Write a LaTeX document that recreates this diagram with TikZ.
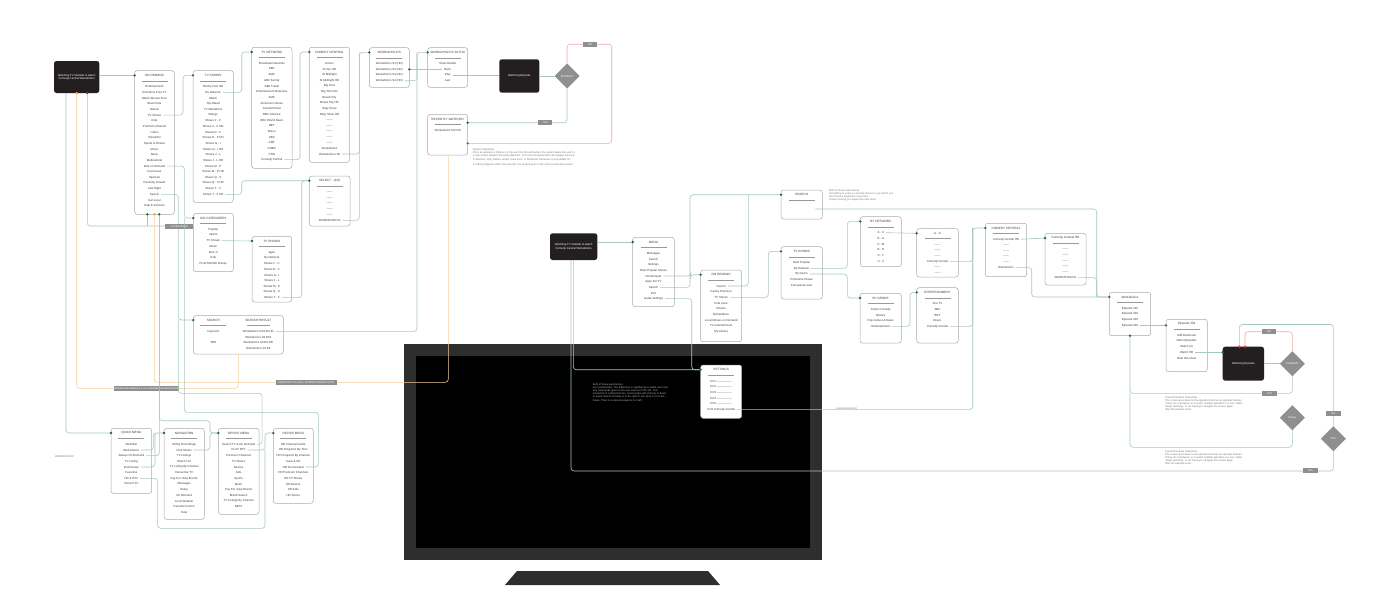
\documentclass[tikz,border=0pt]{standalone}
\usepackage{fontspec}
\setmainfont{Liberation Sans}
\usetikzlibrary{calc,shapes.geometric}
\definecolor{connc}{HTML}{A6C9BC}
\definecolor{dotc}{HTML}{1D6B3B}
\definecolor{orc}{HTML}{F8CF9C}
\definecolor{ordot}{HTML}{F5A23A}
\definecolor{redl}{HTML}{F3A7A7}
\definecolor{redd}{HTML}{E53935}
\definecolor{boxc}{HTML}{AAAAAA}
\definecolor{sepc}{HTML}{9A9A9A}
\definecolor{txt}{HTML}{3A3A3A}
\definecolor{labc}{HTML}{8F8F8F}
\definecolor{blkc}{HTML}{231F20}
\definecolor{notec}{HTML}{777777}
\definecolor{bezel}{HTML}{2E2E2E}
\tikzset{
 boxst/.style={draw=boxc, fill=white, line width=0.5pt, rounded corners=2.5pt, inner sep=0pt, outer sep=0pt, anchor=north west},
 tst/.style={font=\fontsize{3.1}{3.6}\selectfont, text=txt, inner sep=0.3pt},
 itst/.style={font=\fontsize{2.9}{3.4}\selectfont, text=txt, inner sep=0.3pt},
 cline/.style={draw=connc, line width=0.6pt, rounded corners=3pt},
 oline/.style={draw=orc, line width=0.6pt, rounded corners=3pt},
 rline/.style={draw=redl, line width=0.6pt, rounded corners=3pt},
 blkst/.style={fill=blkc, rounded corners=2.5pt, inner sep=0pt, outer sep=0pt, anchor=north west, text=white, align=center, font=\fontsize{2.8}{3.3}\selectfont},
 diast/.style={diamond, fill=labc, minimum width=25pt, minimum height=25pt, inner sep=0pt, outer sep=0pt, text=white, font=\fontsize{2.8}{3.3}\selectfont},
 lab/.style={fill=labc, text=white, minimum width=14.5pt, minimum height=5pt, inner sep=0.5pt, font=\fontsize{2.6}{3}\selectfont},
 notest/.style={anchor=north west, align=left, inner sep=0pt, text=notec, font=\fontsize{2.6}{3.2}\selectfont},
}
\newcommand\lbox[7]{%
 \pgfmathsetmacro\bw{#4-#2}\pgfmathsetmacro\bh{#5-#3}%
 \node[boxst, minimum width=\bw pt, minimum height=\bh pt] (#1) at (#2,#3) {};
 \node[tst] (#1-t) at ($(#1.north)+(0,4.7)$) {#6};
 \draw[sepc, line width=0.4pt] ($(#1.north)+(-13,10)$) -- ($(#1.north)+(13,10)$);
 \coordinate (#1-in) at ($(#1.north west)+(0,4.7)$);
 \foreach \t [count=\i] in {#7} {\node[itst] (#1-\i) at ($(#1.north)+(0,{16+(\i-1)*5.67})$) {\t};}
}
\newcommand\gdot[1]{\fill[dotc] (#1) circle (1.3pt);}
\newcommand\rdot[1]{\fill[redd] (#1) circle (1.3pt);}
\newcommand\orgdot[1]{\fill[ordot] (#1) circle (1.3pt);}
\begin{document}
\begin{tikzpicture}[x=1pt,y=-1pt]
\useasboundingbox (0,0) rectangle (1400,600);
\fill[white] (0,0) rectangle (1400,600);
% ---------- TV monitor ----------
\fill[bezel] (404,344) rectangle (822,560);
\fill[black] (416,356) rectangle (810,548);
\fill[bezel] (517,571) -- (708,571) -- (720,585) -- (505,585) -- cycle;
\node[notest, text=white!70!black] (scrnote) at (592.7,383) {Both of these experiences\\are Cosmetically. The difference is signified by a subtle color and\\any commands given to the user source for the left. The\\interaction is a fairly fast one, most people will scroll up or down\\to watch Search Overlay or to the right to see what is on in the\\future. Their is a natural sequence to it left.};

% ---------- boxes (top-left) ----------
\node[blkst, minimum width=45.3pt, minimum height=32pt] (blk1) at (54,61) {Watching TV Outside to watch\\Comedy Central Workaholics};
\lbox{od1}{134.7}{70.7}{174.3}{214.3}{ON DEMAND}{Entertainment,Primetime Free TV,Watch Movies Free,Black Kids,Marvel,TV Shows,Kids,Premium Channel,Latino,Showtime,Sports \& Fitness,Music,News,Multicultural,Kids on Demand,Fan Faves,Specials,Recently Viewed,Last Night,Search,Get Local,Help \& Services}
\lbox{tvs1}{193}{70.7}{233.3}{202.3}{TV SHOWS}{Mostly Free HD,By Network,Watch,Top Rated,TV Marathons,Mango,Shows \# - C,Shows \# - C HD,Shows D - F,Shows D - F HD,Shows G - I,Shows G - I HD,Shows J - L,Shows J - L HD,Shows M - P,Shows M - P HD,Shows Q - S,Shows Q - S HD,Shows T - Z,Shows T - Z HD}
\lbox{tvn}{251.7}{47.3}{292}{168.3}{TV NETWORK}{Broadcast Networks,ABC,AMC,ABC Family,A\&E Travel,Entertainment Networks,AMC,American Heroes,Animal Planet,BBC America,BBC World News,BET,Bravo,CBS,CMT,CNBC,CNN,Comedy Central}
\lbox{cc1}{309.3}{47.3}{349.7}{162.3}{COMEDY CENTRAL}{Archer,Archer HD,At Midnight,At Midnight HD,Big Time,Big Time HD,Broad City,Broad City HD,Daily Show,Daily Show HD,------,------,------,------,------,Workaholics,Workaholics HD}
\lbox{wk1}{369.3}{47.7}{409.3}{87.3}{WORKAHOLICS}{Workaholics S1 (HD),Workaholics S2 (HD),Workaholics S3 (HD),Workaholics S4 (HD)}
\lbox{wke}{427.7}{47.7}{467.7}{87.3}{WORKAHOLICS S3 E10}{Show Details,Back,Play,Last}
\node[blkst, minimum width=40pt, minimum height=33.4pt] (blkep1) at (499.3,59.3) {Watching Episode};
\node[diast] (dia1) at (567,76) {Finished?};
\lbox{rw}{427.7}{114.3}{467.7}{155}{RECENTLY WATCHED}{Workaholics S3 E10}
\lbox{sel}{309.3}{176}{350}{226}{SELECT - (1/6)}{------,------,------,------,------,WORKAHOLICS}
\lbox{kc}{193.3}{213.3}{233.3}{271.7}{KID CATEGORIES}{Popular,Sports,TV Shows,Music,Nick Jr,Kids,PLAYHOUSE Disney}
\lbox{tvs2}{252}{236.3}{291.7}{302}{TV SHOWS}{Ages,By Network,Shows \# - C,Shows D - F,Shows G - I,Shows J - L,Shows M - P,Shows Q - S,Shows T - Z}
% search box
\node[boxst, minimum width=90pt, minimum height=38.3pt] (srch) at (193.3,315.7) {};
\node[tst] (srch-t) at (213.3,320) {SEARCH};
\node[tst] (srch-t2) at (258.3,320) {SEARCH RESULT};
\draw[sepc, line width=0.4pt] (200,325.5) -- (226,325.5);
\draw[sepc, line width=0.4pt] (247.3,325.5) -- (270,325.5);
\node[itst] (srch-l1) at (213.3,331.3) {Keyword};
\node[itst] (srch-l2) at (213.3,342.7) {TBD};
\node[itst] (srch-r1) at (258.3,331.3) {Workaholics S3 E10 HD};
\node[itst] (srch-r2) at (258.3,337) {Workaholics S3 E10};
\node[itst] (srch-r3) at (258.3,342.7) {Workaholics S3 E9 HD};
\node[itst] (srch-r4) at (258.3,348.3) {Workaholics S3 E9};
\coordinate (srch-in) at (193.3,320);
% bottom boxes
\lbox{qa}{111}{428.3}{151.7}{493.3}{QUICK MENU}{Watchlist,Web Alarms,Always On Demand,TV Listing,Find Shows,Favorites,HD \& DTV,Recent TV}
\lbox{nav}{164}{428.3}{204.3}{519.3}{NAVIGATION}{All My Recordings,Find Shows,TV Listings,Watch List,TV Listing By Channel,Interactive TV,Pay Per View Events,Messages,Setup,On Demand,Local Weather,Parental Control,Help}
\lbox{dm1}{218.3}{428.3}{259}{514.3}{DEVICE MENU}{Search TV \& On Demand,PLAY DTV,Premium Channels,TV Shows,Movies,Kids,Sports,Music,Pay Per View Events,Brand Search,TV Listings By Channel,NEXT}
\lbox{dm2}{273.3}{428.3}{313.3}{503.3}{DEVICE MENU}{HD Channel Guide,HD Programs By Time,HD Programs By Channel,Save \& HD,HD On Demand,HD Premium Channels,HD TV Shows,HD Movies,HD Kids,HD Sports}

% ---------- boxes (right) ----------
\node[blkst, minimum width=47.3pt, minimum height=26.7pt] (blk2) at (550,233.3) {Watching TV Outside to watch\\Comedy Central Workaholics};
\lbox{menu}{632.7}{237.3}{674.3}{306.7}{MENU}{Messages,Search,Settings,Most Popular Shows,On Demand,Apps For TV,Search,Exit,Guide Settings}
\lbox{od2}{700.7}{270}{741.7}{341.7}{ON DEMAND}{Search,Family Premium,TV Shows,Kids Zone,Movies,Nickelodeon,Local Movies on Demand,TV entertainment,My Library}
\lbox{set}{700.7}{365}{741.7}{418.3}{SETTINGS}{CC1 ----------------,CC2 ----------------,CC3 ----------------,CC4 ----------------,CC5 ----------------,CC6 Comedy Central}
\lbox{s3}{781}{190}{822.3}{219}{SEARCH}{}
\lbox{tvs3}{781}{246.7}{822.3}{299}{TV SHOWS}{Most Popular,By Network,By Genre,Primetime Shows,Full season sale}
\lbox{bn}{860.3}{216.7}{901.3}{266.7}{BY NETWORK}{A - C,D - G,H - M,N - R,S - T,U - Z}
\lbox{ac}{916.7}{228.6}{958.3}{277}{A - C}{------,------,------,Comedy Central,------,------}
\lbox{cc3}{985.3}{223.3}{1026.7}{276.7}{COMEDY CENTRAL}{Comedy Central HD,------,------,------,------,Workaholics}
\lbox{cchd}{1045}{233.3}{1086}{285}{Comedy Central HD}{------,------,------,------,------,WORKAHOLICS}
\lbox{bg}{860}{293.3}{901.3}{343}{BY GENRE}{Action Comedy,Movies,Pop Culture \& News,Entertainment}
\lbox{ent}{916.7}{287.7}{958.3}{343}{ENTERTAINMENT}{Ace TV,ABC,BET,Bravo,Comedy Central}
\lbox{wk3}{1109.3}{292.3}{1150.7}{335.7}{Workaholics}{Episode 301,Episode 302,Episode 303,Episode 304}
\lbox{ep}{1166}{319.3}{1207.3}{371.7}{Episode 304}{Add Bookmark,Other Episodes,Watch (2),Watch HD,Rate this show}
\node[blkst, minimum width=41.3pt, minimum height=34pt] (blk3) at (1222.7,346.7) {Watching Episode};
\node[diast] (dia2) at (1292.3,363.7) {Finished?};
\node[diast] (dia3) at (1292.3,417.7) {Pause};
\node[diast] (dia4) at (1333.3,438.7) {Exit};

% ---------- connectors (top-left) ----------
\draw[cline] (blk1.east |- od1-in) -- (od1-in);
\draw[cline] ([xshift=1.5pt]od1-6.east) -| ([xshift=-10pt]tvs1-in) -- (tvs1-in);
\draw[cline] ([xshift=1.5pt]od1-15.east) -| ([xshift=-9pt]kc-in) -- (kc-in);
\draw[cline] ([xshift=1.5pt]od1-20.east) -| ([xshift=-15pt]srch-in) -- (srch-in);
\draw[cline] ([xshift=1.5pt]tvs1-2.east) -| ([xshift=-10pt]tvn-in) -- (tvn-in);
\draw[cline] ([xshift=1.5pt]tvs1-20.east) -| ([xshift=-67.6pt]sel-in) -- (sel-in);
\draw[cline] ([xshift=1.5pt]tvn-18.east) -| ([xshift=-9.3pt]cc1-in) -- (cc1-in);
\draw[cline] ([xshift=1.5pt]cc1-17.east) -| ([xshift=-10pt]wk1-in) -- (wk1-in);
\draw[cline] ([xshift=1.5pt]sel-6.east) -| ([xshift=-10pt]wk1-in);
\draw[cline] ([xshift=1.5pt]tvs2-9.east) -| ([xshift=-7.6pt]sel-in) -- (sel-in);
\draw[cline] ([xshift=1.5pt]kc-3.east) -- (tvs2-in);
\draw[cline] ([xshift=1.5pt]wk1-4.east) -| ([xshift=-10.7pt]wke-in) -- (wke-in);
\draw[cline] ([xshift=1.5pt]srch-r1.east) -| ([xshift=-10.7pt]wke-in);
\draw[cline] ([xshift=-1.5pt]wke-2.west) -- (wk1.east |- wke-2);
\draw[cline] ([xshift=1.5pt]wke-3.east) -- (blkep1.west |- wke-3);
\draw[cline] (blkep1.east |- dia1.west) -- (dia1.west);
\coordinate (rw-a) at ($(rw.north east)+(0,8.4)$);
\coordinate (rw-b) at ($(rw.north east)+(0,29)$);
\coordinate (r1) at ($(dia1.north)+(44.7,-19.3)$);
\draw[cline] (dia1.south) |- (rw-a);
\draw[rline] (dia1.north) |- (r1) |- (rw-b);
\node[lab] (yes1) at ($(rw-a)+(77.5,0)$) {YES};
\node[lab] (no1) at ($(r1)+(-21.7,0)$) {NO};
% from black box 1
\coordinate (b1g) at ($(blk1.south west)+(12,0)$);
\coordinate (b1o) at ($(blk1.south west)+(22.7,0)$);
\coordinate (b1d) at ($(blk1.south west)+(33.3,0)$);
\coordinate (sro) at ($(srch.south west)+(45,0)$);
\coordinate (catj) at ($(kc-in)+(-9,8)$);
\draw[cline] (b1g) |- (qa-in);
\draw[oline] (b1o) |- ($(sro)+(0,34.3)$) -- (sro);
\draw[cline] (b1d) |- (catj);
\node[lab, minimum width=28pt] (catlab) at ($(catj)+(-5,0.7)$) {CATEGORIES};
\node[lab, minimum width=61pt] (advlab) at ($(b1o)+(69.6,295.3)$) {ADVANCED SEARCH \& TV CHANNEL INTERACTION};
% from on demand bottom
\coordinate (od1g) at ($(od1.south west)+(12.6,0)$);
\coordinate (od1o) at ($(od1.south west)+(19.6,0)$);
\coordinate (od1h) at ($(od1.south west)+(24.6,0)$);
\coordinate (rwo) at ($(rw.south west)+(20.6,0)$);
\draw[cline] (od1g) -- ($(od1g)+(0,11.7)$);
\draw[oline] (od1o) |- ($(rwo)+(0,227.3)$) -- (rwo);
\draw[cline] (od1h) |- ($(dm1-in)+(-8.3,-12.3)$) |- (dm1-in);
\node[lab, minimum width=61pt] (desklab) at ($(od1o)+(151.7,168)$) {DESKTOP/TV \& CELL SYSTEM INTERACTION};
% search line continues to device menu, kids line to HD device menu
\draw[cline] ([xshift=1.5pt]dm1-1.east) -| ($(dm1-1.east)+(6.5,-51)$) -| ([xshift=-15pt]srch-in);
\draw[cline] ([xshift=1.5pt]dm2-5.east) -| ($(dm2.east)+(5,-53.5)$) -| ([xshift=-9pt]kc-in);
% bottom
\draw[cline] ([xshift=1.5pt]qa-2.east) -| ([xshift=-10.7pt]nav-in) -- (nav-in);
\draw[cline] ([xshift=1.5pt]qa-5.east) -| ([xshift=-9pt]nav-in);
\draw[cline] ([xshift=1.5pt]qa-3.east) -| (od1h);
\draw[cline] ([xshift=1.5pt]nav-2.east) -| ([xshift=-8.3pt]dm1-in) -- (dm1-in);
\coordinate (dm1j) at ([xshift=-8.3pt]dm2-in |- dm1-2);
\draw[cline] ([xshift=1.5pt]dm1-2.east) -| ([xshift=-8.3pt]dm2-in) -- (dm2-in);
\draw[cline] ([xshift=1.5pt]qa-7.east) -| ($(qa-7.east)+(19,50)$) -| (dm1j);
\node[notest, anchor=west] (webl) at (55,456.3) {WEB/DESKTOP};

% ---------- connectors (right) ----------
\draw[cline] (blk2.east |- menu-in) -- (menu-in);
\draw[cline] ([xshift=1.5pt]menu-5.east) -| ([xshift=-10pt]od2-in) -- (od2-in);
\draw[cline] ([xshift=1.5pt]menu-7.east) -| ([xshift=-91pt]s3-in) -- (s3-in);
\draw[cline] ([xshift=1.5pt]menu-9.east) -| ([xshift=-9pt]set-in) -- (set-in);
\draw[cline] ($(blk2.south west)+(23.3,0)$) |- (set-in);
\draw[cline] ([xshift=1.5pt]od2-1.east) -| ([xshift=-32.7pt]s3-in);
\draw[cline] ([xshift=1.5pt]od2-3.east) -| ([xshift=-12.7pt]tvs3-in) -- (tvs3-in);
\draw[cline] ([xshift=1.5pt]set-6.east) -| ([xshift=-12.6pt]cc3-in) -- (cc3-in);
\draw[cline] ([xshift=1.5pt]tvs3-2.east) -| ([xshift=-13pt]bn-in) -- (bn-in);
\draw[cline] ([xshift=1.5pt]tvs3-3.east) -| ([xshift=-12.7pt]bg-in) -- (bg-in);
\draw[cline] ([xshift=1.5pt]bn-1.east) -- (ac-in);
\draw[cline] ([xshift=1.5pt]ac-4.east) -| ([xshift=-12.6pt]cc3-in);
\draw[cline] ([xshift=1.5pt]bg-4.east) -| ([xshift=-6.7pt]ent-in) -- (ent-in);
\draw[cline] ([xshift=1.5pt]ent-5.east) -| ([xshift=-12.6pt]cc3-in);
\draw[cline] ([xshift=1.5pt]cc3-1.east) -- (cchd-in);
\draw[cline] ([xshift=1.5pt]cc3-6.east) -| ($(wk3-in)+(-77.6,0)$) -- (wk3-in);
\draw[cline] ([xshift=1.5pt]cchd-6.east) -| ($(wk3-in)+(-12.6,0)$) -- (wk3-in);
\draw[cline] ($(s3.south east)+(-7,-10)$) -| ($(wk3-in)+(-12.6,0)$);
\draw[cline] ([xshift=1.5pt]wk3-4.east) -- (ep.west |- wk3-4);
\draw[cline] ([xshift=1.5pt]ep-4.east) -- (blk3.west |- ep-4);
\draw[cline] (blk3.east) -- (dia2.west);
\coordinate (wk3b) at ($(wk3.south west)+(20.7,0)$);
\draw[cline] (dia2.south) |- ($(wk3b)+(0,57.6)$) -- (wk3b);
\draw[cline] (dia3.south) |- ($(wk3b)+(0,111.6)$) -- ($(wk3b)+(0,57.6)$);
\coordinate (b3r) at ($(blk3.north west)+(22.3,0)$);
\coordinate (b3g) at ($(blk3.north west)+(16.6,0)$);
\draw[rline] (dia2.north) |- ($(b3r)+(0,-15)$) -- (b3r);
\coordinate (xr) at ($(dia4.north)+(0,-101.7)$);
\draw[cline] (b3g) |- (xr) -- (dia4.north);
\coordinate (b2x) at ($(blk2.south west)+(21,0)$);
\draw[cline] (dia4.south) |- ($(b2x)+(0,211)$) -- (b2x);
\node[lab] (no2) at ($(b3r)+(24,-15.3)$) {NO};
\node[lab] (yes2) at ($(wk3b)+(139.5,57.6)$) {YES};
\node[lab] (no3) at ($(xr)+(0,88.8)$) {NO};
\node[lab] (yes3) at ($(dia4.south)+(-23,19.6)$) {YES};

% dots
\gdot{od1-in}\gdot{tvs1-in}\gdot{kc-in}\gdot{srch-in}\gdot{tvn-in}\gdot{sel-in}\gdot{cc1-in}\gdot{wk1-in}\gdot{tvs2-in}\gdot{wke-in}
\gdot{wk1.east |- wke-2}\gdot{rw-a}\rdot{rw-b}\gdot{b1d}\orgdot{b1o}\gdot{od1g}\orgdot{od1o}\gdot{od1h}
\gdot{qa-in}\gdot{nav-in}\gdot{dm1-in}\gdot{dm2-in}
\gdot{menu-in}\gdot{od2-in}\gdot{s3-in}\gdot{set-in}\gdot{tvs3-in}\gdot{bn-in}\gdot{bg-in}\gdot{ac-in}\gdot{ent-in}\gdot{cc3-in}\gdot{cchd-in}\gdot{wk3-in}
\gdot{ep.west |- wk3-4}\gdot{blk3.west |- ep-4}\gdot{wk3b}\rdot{b3r}\rdot{b3g}

% ---------- notes ----------
\node[notest] (sysnote) at (472.7,148.5) {System Interaction\\Once an episode is finished, or the user hits the exit button, the system takes the user to\\a new screen labeled `Recently Watched'. The only interaction that can happen here are\\to Resume, Play, Delete, and/or Save them. A Reminder interaction is impossible for.\\[2.5pt]If nothing happens within two minutes, the system goes to the main on-demand screen.};
\node[notest] (srchnote) at (829,189) {Both of these experiences.\\Something to enter is currently done to a you which you\\don't have a keyboard connected\\Doesn't quickly you begin the main room};
\node[notest] (cn1) at (1165,396) {Cancel/Continue Interaction\\The screen goes back to the episode list when an episode finishes.\\If they are in between or in watch multiple episodes in a row, called\\`binge watching', is not having to navigate the screen again\\after the episode ends.};
\node[notest] (cn2) at (1165,450) {Cancel/Continue Interaction\\The screen goes back to the episode list when an episode finishes.\\If they are in between or in watch multiple episodes in a row, called\\`binge watching', is not having to navigate the screen again\\after the episode ends.};
\node[notest] (cmode) at (836,407.5) {Console Mode (6)};
\end{tikzpicture}
\end{document}
